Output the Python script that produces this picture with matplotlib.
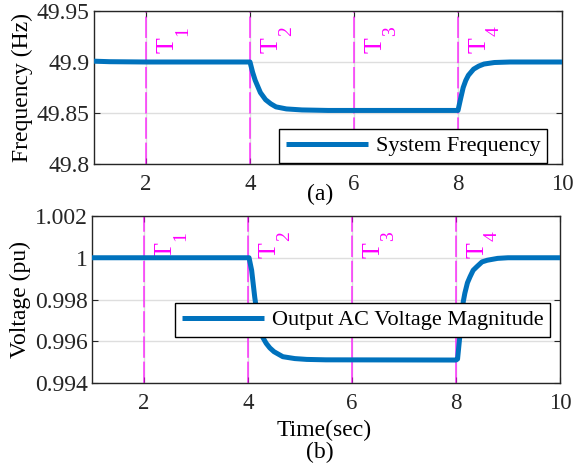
import matplotlib
matplotlib.use("Agg")
import matplotlib.pyplot as plt

plt.rcParams["font.family"] = ["Liberation Serif", "DejaVu Serif"]

# System frequency (Hz) versus time (s)
freq_time = [1.0, 1.3, 2.0, 4.0, 4.05, 4.1, 4.15, 4.2, 4.3, 4.4, 4.5, 4.7, 5.0, 5.5,
             8.0, 8.05, 8.1, 8.15, 8.2, 8.3, 8.4, 8.5, 8.7, 9.0, 10.0]
freq_val = [49.9008, 49.9003, 49.9, 49.9, 49.890, 49.882, 49.876, 49.870, 49.863,
            49.859, 49.856, 49.854, 49.853, 49.8525,
            49.8525, 49.864, 49.875, 49.882, 49.887, 49.893, 49.896, 49.898,
            49.8995, 49.9, 49.9]

# Output AC voltage magnitude (pu) versus time (s)
volt_time = [1.0, 4.02, 4.07, 4.13, 4.2, 4.25, 4.29, 4.35, 4.42, 4.5, 4.67, 4.9,
             5.13, 5.5, 8.0, 8.03, 8.08, 8.14, 8.17, 8.22, 8.27, 8.33, 8.4, 8.5,
             8.6, 8.8, 9.0, 10.0]
volt_val = [1.0, 1.0, 0.9994, 0.9981, 0.99687, 0.9964, 0.99616, 0.9959, 0.99568,
            0.9955, 0.99526, 0.99517, 0.99513, 0.99511, 0.9951, 0.99515, 0.9964,
            0.9979, 0.9983, 0.9988, 0.99909, 0.9994, 0.99957, 0.9998, 0.99988,
            0.99997, 1.0, 1.0]

event_times = [2, 4, 6, 8]
event_subs = ["1", "2", "3", "4"]

x_ticks = [2, 4, 6, 8, 10]
freq_ticks = [49.8, 49.85, 49.9, 49.95]
freq_ticklabels = ["49.8", "49.85", "49.9", "49.95"]
volt_ticks = [0.994, 0.996, 0.998, 1.0, 1.002]
volt_ticklabels = ["0.994", "0.996", "0.998", "1", "1.002"]

LINE_C = "#0072BD"
EVT_C = "#FF00FF"
AX_C = "#262626"
FS = 17
XT_FS = 16.5
LEG_FS = 16

W, H = 573, 470
fig = plt.figure(figsize=(W / 100, H / 100), dpi=100)
ax1 = fig.add_axes([94 / W, 1 - 164 / H, (562 - 94) / W, (164 - 11) / H])
ax2 = fig.add_axes([92 / W, 1 - 383 / H, (560 - 92) / W, (383 - 216) / H])


def style(ax, yticks, yticklabels, ylim):
    ax.set_xlim(1, 10)
    ax.set_ylim(*ylim)
    ax.set_xticks(x_ticks)
    ax.set_xticklabels([str(t) for t in x_ticks])
    ax.set_yticks(yticks)
    ax.set_yticklabels(yticklabels)
    ax.grid(True, color="#dedede", linewidth=1.0, zorder=0)
    ax.set_axisbelow(True)
    ax.tick_params(direction="in", length=4, width=0.8, colors=AX_C,
                   labelcolor=AX_C, top=True, right=True)
    ax.tick_params(axis="x", pad=7, labelsize=XT_FS)
    ax.tick_params(axis="y", pad=3, labelsize=FS)
    for s in ax.spines.values():
        s.set_color(AX_C)
        s.set_linewidth(1.0)
    for t in event_times:
        ax.axvline(t, color=EVT_C, linewidth=1.1, alpha=0.8,
                   linestyle=(0, (14, 2.5)), zorder=1)
    for t, sub in zip(event_times, event_subs):
        ax.annotate("T", xy=(t, 1), xycoords=("data", "axes fraction"),
                    xytext=(11, -42), textcoords="offset pixels", rotation=90,
                    ha="left", va="bottom", color=EVT_C, fontsize=18.5)
        ax.annotate(sub, xy=(t, 1), xycoords=("data", "axes fraction"),
                    xytext=(28, -25), textcoords="offset pixels", rotation=90,
                    ha="left", va="bottom", color=EVT_C, fontsize=14)


style(ax1, freq_ticks, freq_ticklabels, (49.8, 49.95))
style(ax2, volt_ticks, volt_ticklabels, (0.994, 1.002))

ax1.plot(freq_time, freq_val, color=LINE_C, linewidth=3.6, zorder=3,
         label="System Frequency", solid_capstyle="butt")
ax2.plot(volt_time, volt_val, color=LINE_C, linewidth=3.6, zorder=3,
         label="Output AC Voltage Magnitude", solid_capstyle="butt")

ax1.set_ylabel("Frequency (Hz)", fontsize=FS, labelpad=3)
ax2.set_ylabel("Voltage (pu)", fontsize=FS, labelpad=3)

# panel captions and the shared time label
fig.text(320 / W, 1 - 194 / H, "(a)", fontsize=FS, ha="center", va="center")
fig.text(324 / W, 1 - 430 / H, "Time(sec)", fontsize=FS, ha="center", va="center")
fig.text(320 / W, 1 - 452 / H, "(b)", fontsize=FS, ha="center", va="center")

for ax, anchor in ((ax1, (0.968, 0.006)), (ax2, (0.979, 0.275))):
    leg = ax.legend(loc="lower right", bbox_to_anchor=anchor, fontsize=LEG_FS,
                    frameon=True, fancybox=False, framealpha=1,
                    edgecolor="black", handlelength=3.7, handletextpad=0.35,
                    borderpad=0.3, borderaxespad=0)
    leg.get_frame().set_linewidth(1.0)
    leg.set_zorder(5)

fig.savefig("out.png", dpi=100)
